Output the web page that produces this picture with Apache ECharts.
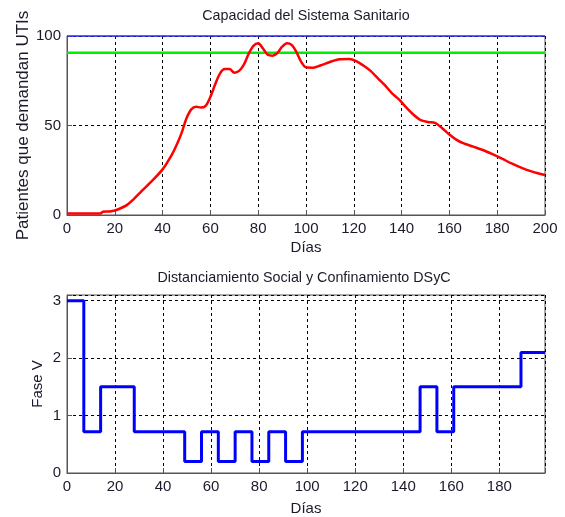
<!DOCTYPE html>
<html>
<head>
<meta charset="utf-8">
<script src="https://cdn.jsdelivr.net/npm/echarts@6/dist/echarts.min.js"></script>
<style>html,body{margin:0;padding:0;background:#fff;}#c{width:565px;height:517px;}</style>
</head>
<body>
<div id="c"></div>
<script>
// ---- Data ----
const demandDays = [0,5,10,14,15,18,20,22,25,28,31,34,37,40,42,44,46,48,50,52,54,56,58,60,62,64,66,68,70,72,74,76,78,80,82,84,86,88,90,92,94,96,98,100,103,106,110,114,118,121,124,127,130,133,136,139,142,145,148,151,154,157,160,163,166,170,174,178,182,186,190,194,197,200];
const demandValues = [0.8,0.8,0.8,0.8,1.8,2.0,2.5,3.5,5.5,9,13,17,21,25.5,29.5,34,39.5,46,54,59,60.5,60,61,66,73,79,81.5,81.5,79.5,80.5,84,90,94.5,96,93,89.5,89,90.5,94,96,95,91,85.5,82.5,82.3,83.5,85.5,87,87.2,86,83.5,80.5,76.5,72.5,68,64.5,60,56,53,52,51.5,48.5,45,42,40,38.2,36.3,34,31.5,28.8,26.5,24.5,23.3,22.3];
const capacityLevel = 90.7;
const maxLevel = 100;
const phaseDays = [0,7,14,28,49,56,63,70,77,84,91,98,147,154,161,189,199];
const phaseValues = [3,0.72,1.5,0.72,0.2,0.72,0.2,0.72,0.2,0.72,0.2,0.72,1.5,0.72,1.5,2.1,2.1];

const FONT = '"Liberation Sans", Arial, sans-serif';
const TXT = '#1a1a2a';
const frame = '#555';

function pairs(xs, ys){ return xs.map((x,i)=>[x, ys[i]]); }

const gridLine = {show:true, lineStyle:{color:'#000', type:[3,3], width:1}};
const axisCommon = {
  axisLine:{show:true, onZero:false, lineStyle:{color:frame, width:1}},
  axisTick:{show:true, inside:true, length:5, lineStyle:{color:frame}},
  axisLabel:{color:TXT, fontFamily:FONT, fontSize:15, margin:6},
  nameTextStyle:{color:TXT, fontFamily:FONT, fontSize:15},
  nameMoveOverlap:false,
  splitLine:gridLine
};
function ax(extra){ return Object.assign({}, axisCommon, extra); }

const chart = echarts.init(document.getElementById('c'), null, {renderer:'canvas'});
chart.setOption({
  animation:false,
  backgroundColor:'#fff',
  graphic:[
    {type:'text', x:306, y:16, style:{text:'Capacidad del Sistema Sanitario', fill:TXT, font:'14.3px '+FONT, textAlign:'center', textVerticalAlign:'middle'}},
    {type:'text', x:304, y:278, style:{text:'Distanciamiento Social y Confinamiento DSyC', fill:TXT, font:'14.3px '+FONT, textAlign:'center', textVerticalAlign:'middle'}}
  ],
  grid:[
    {left:67, top:36, width:478, height:179, show:true, borderColor:frame, borderWidth:1, backgroundColor:'transparent'},
    {left:67, top:295, width:478, height:180, show:true, borderColor:frame, borderWidth:1, backgroundColor:'transparent'}
  ],
  xAxis:[
    ax({gridIndex:0, type:'value', min:0, max:200, interval:20, name:'Días', nameLocation:'middle', nameGap:25}),
    ax({gridIndex:1, type:'value', min:0, max:199, interval:20, name:'Días', nameLocation:'middle', nameGap:28,
      axisLabel:Object.assign({}, axisCommon.axisLabel, {formatter:v=> (v%20===0 ? String(v) : '')})})
  ],
  yAxis:[
    ax({gridIndex:0, type:'value', min:0, max:100, interval:50, name:'Patientes que demandan UTIs', nameLocation:'middle', nameGap:35,
      nameTextStyle:{color:TXT, fontFamily:FONT, fontSize:17}}),
    ax({gridIndex:1, type:'value', min:0, max:3.1, interval:1, name:'Fase V', nameLocation:'middle', nameGap:22,
      axisLabel:Object.assign({}, axisCommon.axisLabel, {formatter:v=> (Number.isInteger(v) ? String(v) : '')})})
  ],
  series:[
    {type:'line', xAxisIndex:0, yAxisIndex:0, data:[[0,maxLevel],[200,maxLevel]], symbol:'none', lineStyle:{color:'#2a2aff', width:1.5}, z:3},
    {type:'line', xAxisIndex:0, yAxisIndex:0, data:[[0,capacityLevel],[200,capacityLevel]], symbol:'none', lineStyle:{color:'#00ee00', width:2.5}, z:4},
    {type:'line', xAxisIndex:0, yAxisIndex:0, data:pairs(demandDays, demandValues), symbol:'none', smooth:0.3, lineStyle:{color:'#ff0000', width:2.5}, z:5},
    {type:'line', xAxisIndex:1, yAxisIndex:1, data:pairs(phaseDays, phaseValues), step:'end', symbol:'none', lineStyle:{color:'#0000ff', width:3}, z:5}
  ]
});
</script>
</body>
</html>
